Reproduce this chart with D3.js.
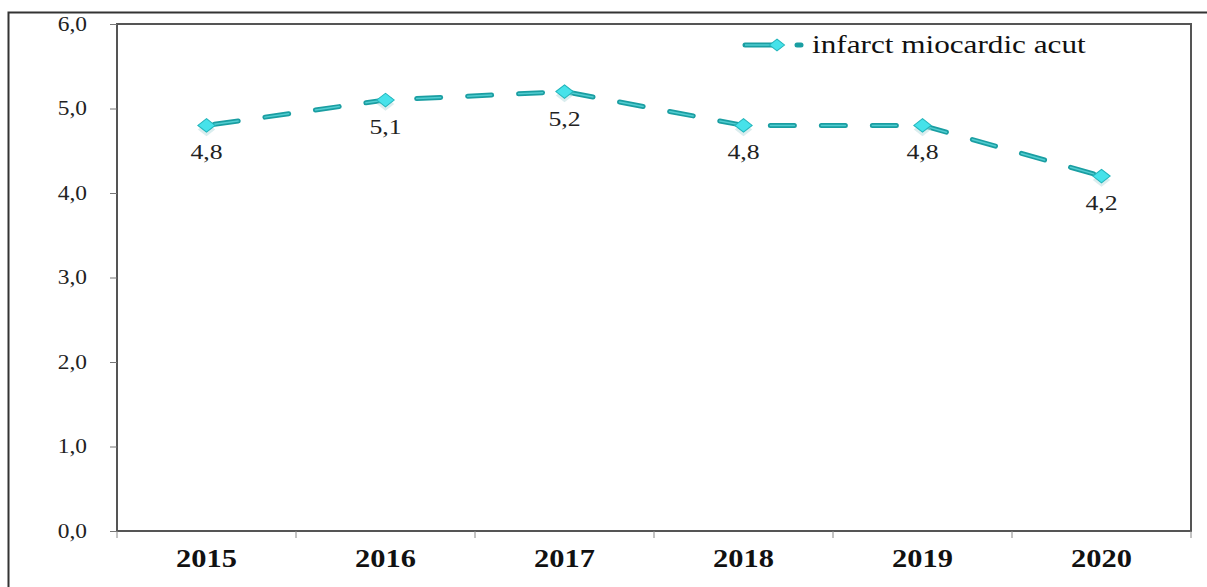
<!DOCTYPE html>
<html>
<head>
<meta charset="utf-8">
<script src="https://cdn.jsdelivr.net/npm/d3@7"></script>
<style>
  body { margin: 0; background: #fff; }
  svg { display: block; font-family: "Liberation Serif", "DejaVu Serif", serif; }
  svg text { font-family: "Liberation Serif", "DejaVu Serif", serif; }
</style>
</head>
<body>
<div id="chart"></div>
<script>
// chart data
const years = ["2015", "2016", "2017", "2018", "2019", "2020"];
const values = [4.8, 5.1, 5.2, 4.8, 4.8, 4.2];
const yTicks = [0, 1, 2, 3, 4, 5, 6];
const seriesName = "infarct miocardic acut";

const width = 1207, height = 587;
const margin = { top: 24, right: 16, bottom: 56, left: 117 };
const stretch = 1.17; // the original text looks wider than normal

const svg = d3.select("#chart").append("svg")
    .attr("width", width)
    .attr("height", height);

// outer frame (only left and top visible)
svg.append("path")
    .attr("d", "M8.5," + height + " V12.5 H" + width)
    .attr("fill", "none")
    .attr("stroke", "#333")
    .attr("stroke-width", 2);

const x = d3.scaleBand()
    .domain(years)
    .range([margin.left, width - margin.right]);

const y = d3.scaleLinear()
    .domain([0, 6])
    .range([height - margin.bottom, margin.top]);

// plot area border
svg.append("rect")
    .attr("x", margin.left)
    .attr("y", margin.top)
    .attr("width", width - margin.left - margin.right)
    .attr("height", height - margin.top - margin.bottom)
    .attr("fill", "none")
    .attr("stroke", "#555")
    .attr("stroke-width", 2);

// y axis
const yAxis = svg.append("g")
    .attr("transform", "translate(" + margin.left + ",0)")
    .call(d3.axisLeft(y).tickValues(yTicks).tickSize(7).tickPadding(23)
        .tickFormat(d => d3.format(".1f")(d).replace(".", ",")));
yAxis.attr("font-family", null).attr("font-size", null);
yAxis.select(".domain").remove();
yAxis.selectAll("line").attr("stroke", "#777");
yAxis.selectAll("text")
    .attr("font-size", 20)
    .attr("dy", "0.3em")
    .attr("fill", "#222");

// x axis: ticks at band boundaries
const xAxis = svg.append("g")
    .attr("transform", "translate(0," + (height - margin.bottom) + ")");
const boundaries = years.map(d => x(d)).concat([x(years[years.length - 1]) + x.bandwidth()]);
xAxis.selectAll("line")
    .data(boundaries)
    .enter().append("line")
    .attr("x1", d => d).attr("x2", d => d)
    .attr("y1", 0).attr("y2", 7)
    .attr("stroke", "#888");
xAxis.selectAll("text")
    .data(years)
    .enter().append("text")
    .attr("x", d => x(d) + x.bandwidth() / 2)
    .attr("y", 36)
    .attr("text-anchor", "middle")
    .attr("font-size", 26)
    .attr("font-weight", "bold")
    .attr("fill", "#111")
    .text(d => d);

const cx = d => x(d) + x.bandwidth() / 2;
const points = years.map((d, i) => ({ year: d, value: values[i] }));

const line = d3.line()
    .x(d => cx(d.year))
    .y(d => y(d.value));

// line: darker outline under lighter dash
svg.append("path")
    .datum(points)
    .attr("d", line)
    .attr("fill", "none")
    .attr("stroke", "#1a9ea2")
    .attr("stroke-width", 5)
    .attr("stroke-linecap", "round")
    .attr("stroke-dasharray", "24,27")
    .attr("stroke-dashoffset", -8);
svg.append("path")
    .datum(points)
    .attr("d", line)
    .attr("fill", "none")
    .attr("stroke", "#52cdd1")
    .attr("stroke-width", 1.5)
    .attr("stroke-linecap", "round")
    .attr("stroke-dasharray", "24,27")
    .attr("stroke-dashoffset", -8);

const diamond = d3.symbol().type(d3.symbolDiamond2).size(160);

function drawMarker(g, px, py) {
    g.append("path")
        .attr("d", diamond)
        .attr("transform", "translate(" + px + "," + (py + 4) + ") scale(1.1,0.85)")
        .attr("fill", "#b5dcdd")
        .attr("opacity", 0.5);
    g.append("path")
        .attr("d", diamond)
        .attr("transform", "translate(" + px + "," + py + ") scale(1.1,0.85)")
        .attr("fill", "#46e2ea")
        .attr("stroke", "#22b5bb")
        .attr("stroke-width", 1);
}

const markers = svg.append("g");
points.forEach(d => drawMarker(markers, cx(d.year), y(d.value)));

// value labels below points
svg.append("g").selectAll("text")
    .data(points)
    .enter().append("text")
    .attr("x", d => cx(d.year))
    .attr("y", d => y(d.value) + 34)
    .attr("text-anchor", "middle")
    .attr("font-size", 22)
    .attr("fill", "#222")
    .text(d => d3.format(".1f")(d.value).replace(".", ","));

// legend
const legend = svg.append("g").attr("transform", "translate(745,45)");
legend.append("line")
    .attr("x1", 0).attr("x2", 30).attr("y1", 0).attr("y2", 0)
    .attr("stroke", "#1a9ea2").attr("stroke-width", 5).attr("stroke-linecap", "round");
legend.append("line")
    .attr("x1", 0).attr("x2", 30).attr("y1", 0).attr("y2", 0)
    .attr("stroke", "#52cdd1").attr("stroke-width", 1.5);
legend.append("line")
    .attr("x1", 52).attr("x2", 56).attr("y1", 0).attr("y2", 0)
    .attr("stroke", "#1a9ea2").attr("stroke-width", 5).attr("stroke-linecap", "round");
legend.append("path")
    .attr("d", d3.symbol().type(d3.symbolDiamond2).size(120))
    .attr("transform", "translate(32,0) scale(1.1,0.85)")
    .attr("fill", "#46e2ea")
    .attr("stroke", "#22b5bb");
legend.append("text")
    .attr("class", "legend-text")
    .attr("x", 67)
    .attr("y", 8)
    .attr("font-size", 26)
    .attr("fill", "#111")
    .text(seriesName);

// widen every text a little, like the original
svg.selectAll("text").each(function () {
    const len = this.getComputedTextLength();
    const k = this.classList.contains("legend-text") ? 1.2 : stretch;
    d3.select(this)
        .attr("textLength", len * k)
        .attr("lengthAdjust", "spacingAndGlyphs");
});
</script>
</body>
</html>
